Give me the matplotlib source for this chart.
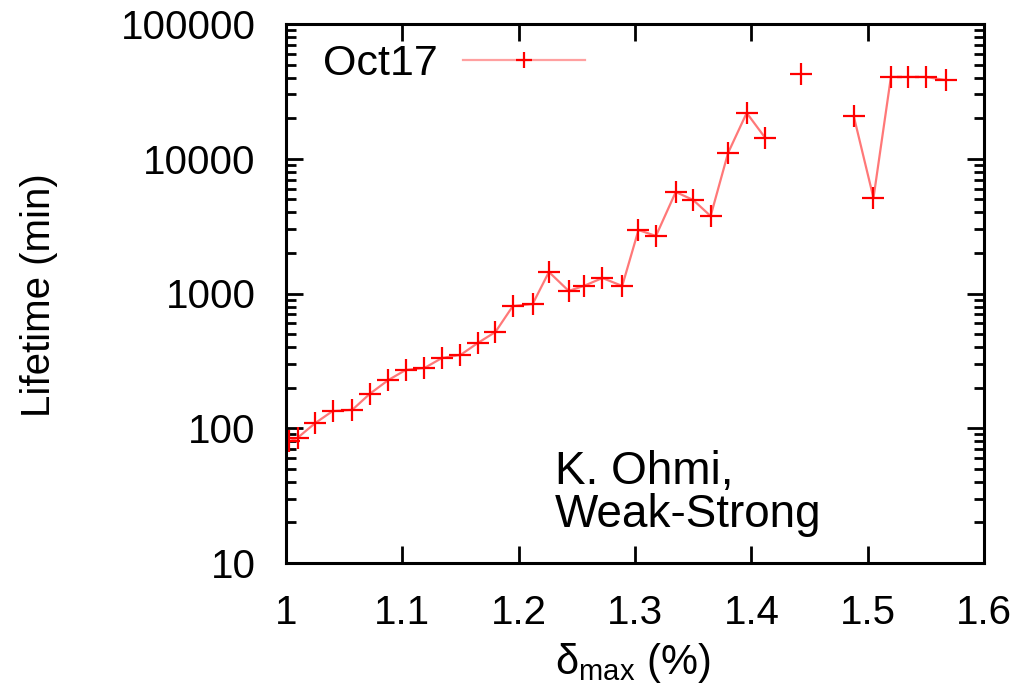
import numpy as np
import matplotlib
matplotlib.use('Agg')
import matplotlib.pyplot as plt

# delta_max (%) and lifetime (min); nan marks a break in the line
delta_max = [1.003, 1.010, 1.025, 1.040, 1.057, 1.072, 1.088, 1.103, 1.119, 1.134,
             1.150, 1.165, 1.180, 1.195, 1.212, 1.226, 1.243, 1.256, 1.272, 1.289,
             1.303, 1.318, 1.335, 1.350, 1.365, 1.380, 1.396, 1.412, np.nan,
             1.443, np.nan,
             1.488, 1.505, 1.520, 1.535, 1.550, 1.567]
lifetime = [80, 85, 109, 134, 137, 180, 228, 271, 280, 332,
            350, 430, 518, 807, 835, 1445, 1045, 1138, 1303, 1138,
            2958, 2673, 5666, 4945, 3757, 11040, 21880, 14260, np.nan,
            42560, np.nan,
            20750, 5117, 40460, 40460, 40460, 38380]

yticks = [10, 100, 1000, 10000, 100000]
xticks = [1, 1.1, 1.2, 1.3, 1.4, 1.5, 1.6]

plt.rcParams['font.family'] = ['Liberation Sans', 'DejaVu Sans']
plt.rcParams['mathtext.fontset'] = 'custom'
plt.rcParams['mathtext.rm'] = 'Liberation Sans'
plt.rcParams['font.size'] = 29

fig = plt.figure(figsize=(10.23, 6.98), dpi=100)
ax = fig.add_axes([286 / 1023, 1 - 563 / 698, 698 / 1023, 539 / 698])

ax.plot(delta_max, lifetime, color='#ff7878', lw=1.6, marker='+',
        markersize=16, markeredgewidth=1.6, markeredgecolor='red',
        label='Oct17')

ax.set_yscale('log')
ax.set_xlim(1, 1.6)
ax.set_ylim(10, 100000)
ax.set_xticks(xticks)
ax.set_xticklabels(['1', '1.1', '1.2', '1.3', '1.4', '1.5', '1.6'])
ax.set_yticks(yticks)
ax.set_yticklabels([str(v) for v in yticks])

for s in ax.spines.values():
    s.set_linewidth(2.2)
ax.tick_params(which='major', direction='in', length=12, width=2,
               top=True, right=True, pad=22)
ax.tick_params(which='minor', direction='in', length=7, width=2,
               top=True, right=True)
ax.tick_params(axis='x', which='minor', bottom=False, top=False)

ax.set_ylabel('Lifetime (min)')
ax.yaxis.set_label_coords(-0.326, 0.497)
ax.set_xlabel(r'$\mathregular{\delta_{max}}$ (%)', fontsize=30)
ax.xaxis.set_label_coords(0.497, -0.145)

ax.text(0.385, 0.2096, 'K. Ohmi,\nWeak-Strong', transform=ax.transAxes,
        ha='left', va='top', linespacing=0.98, fontsize=33)

leg = ax.legend(loc='upper left', bbox_to_anchor=((323 - 286) / 698, (563 - 44) / 539),
                frameon=False, markerfirst=False, numpoints=1, borderpad=0,
                borderaxespad=0, handlelength=2.84, handletextpad=0.58,
                fontsize=31)
leg.legend_handles[0].set_markersize(11)
leg.legend_handles[0].set_color('#ffa0a0')
leg.legend_handles[0].set_markeredgecolor('red')

plt.savefig('out.png', dpi=100)
